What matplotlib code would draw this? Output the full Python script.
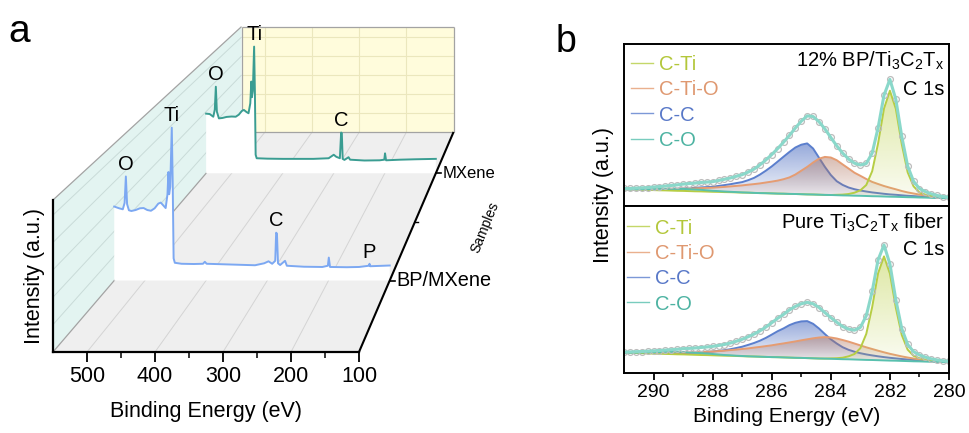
import numpy as np
import matplotlib
matplotlib.use('Agg')
import matplotlib.pyplot as plt
from matplotlib.patches import Polygon
from matplotlib.colors import to_rgb

plt.rcParams['font.family'] = ['Liberation Sans', 'DejaVu Sans']
plt.rcParams['mathtext.fontset'] = 'custom'
plt.rcParams['mathtext.rm'] = 'Liberation Sans'
plt.rcParams['mathtext.it'] = 'Liberation Sans:italic'

# ------------------------------------------------------------------ data (panel a)
sample_names = ['BP/MXene', 'MXene']
a_xticks = [500, 400, 300, 200, 100]
a_xminor = [450, 350, 250, 150]

bp_be = [550, 542, 536, 533, 531, 529, 526, 522, 515, 508, 502, 496, 490, 484, 478, 474,
         470, 466, 463, 461.5, 460.3, 458.5, 456, 454.5, 453, 451, 440, 420, 405, 402, 399,
         360, 320, 305, 298, 292, 287, 285.5, 284.2, 282.5, 279, 271, 268, 240, 210, 201,
         199.5, 197.5, 170, 150, 134, 133, 132, 110, 100]
bp_int = [30.0, 29.3, 28.9, 31.5, 42.2, 31.0, 28.5, 28.2, 28.6, 29.3, 29.4, 28.6, 28.3, 29.3,
          31.2, 31.6, 30.5, 29.4, 35.0, 44.0, 35.0, 38.0, 62.0, 40.0, 9.0, 7.2, 6.8, 6.7, 6.8,
          7.6, 6.8, 6.5, 6.2, 7.0, 7.8, 6.8, 8.0, 19.4, 19.0, 7.0, 6.3, 8.0, 6.0, 5.6, 5.5,
          6.0, 9.3, 5.5, 5.4, 5.5, 6.0, 6.8, 5.8, 6.0, 6.1]
mx_be = [550, 543, 536, 533, 531, 529, 525, 518, 510, 500, 492, 486, 480, 476, 471, 467,
         463.5, 461.5, 460.3, 458.5, 456, 454.5, 453, 451, 430, 400, 340, 310, 300, 295,
         288, 285.5, 284.2, 282.5, 279, 271, 268, 240, 210, 201, 199.5, 197.5, 170, 140, 100]
mx_int = [29.0, 28.8, 27.5, 31.0, 42.1, 30.0, 26.7, 26.9, 27.4, 27.6, 27.5, 28.5, 30.3, 30.8,
          29.8, 29.2, 34.0, 44.6, 37.0, 40.0, 61.6, 40.0, 9.0, 7.3, 7.1, 7.0, 7.0, 7.3, 9.0,
          8.0, 7.3, 19.8, 19.5, 7.0, 6.5, 7.8, 6.6, 6.2, 6.3, 6.6, 9.7, 6.3, 6.6, 6.8, 7.0]
bp_peaks = [('O', 531), ('Ti', 456), ('C', 285), ('P', 133)]
mx_peaks = [('O', 531), ('Ti', 456), ('C', 285)]

# ------------------------------------------------------------------ data (panel b)
b_be = [291.0, 290.8, 290.6, 290.4, 290.2, 290.0, 289.8, 289.6, 289.4, 289.2,
        289.0, 288.8, 288.6, 288.4, 288.2, 288.0, 287.8, 287.6, 287.4, 287.2,
        287.0, 286.8, 286.6, 286.4, 286.2, 286.0, 285.8, 285.6, 285.4, 285.2,
        285.0, 284.8, 284.6, 284.4, 284.2, 284.0, 283.8, 283.6, 283.4, 283.2,
        283.0, 282.8, 282.6, 282.4, 282.2, 282.0, 281.8, 281.6, 281.4, 281.2,
        281.0, 280.8, 280.6, 280.4, 280.2, 280.0]
b_xticks = [290, 288, 286, 284, 282, 280]
b_xminor = [289, 287, 285, 283, 281]
comp_names = ['C-Ti', 'C-Ti-O', 'C-C', 'C-O']

# top: 12% BP/Ti3C2Tx
top_bg = [16.7, 16.5, 16.4, 16.2, 16.0, 15.9, 15.7, 15.6, 15.4, 15.2,
          15.1, 14.9, 14.7, 14.6, 14.4, 14.2, 14.1, 13.9, 13.8, 13.6,
          13.4, 13.3, 13.1, 12.9, 12.8, 12.6, 12.4, 12.3, 12.1, 12.0,
          11.8, 11.6, 11.5, 11.3, 11.1, 11.0, 10.8, 10.6, 10.5, 10.3,
          10.2, 10.0, 9.8, 9.7, 9.5, 9.3, 9.2, 9.0, 8.8, 8.7,
          8.5, 8.4, 8.2, 8.0, 7.9, 7.7]
top_co = [0, 0, 0.3, 0.5, 0.8, 1.0, 1.3, 1.5, 1.8, 1.9,
          2.0, 1.9, 1.8, 1.6, 1.3, 1.0, 0.8, 0.6, 0.4, 0.3,
          0.2, 0.1, 0, 0, 0, 0, 0, 0, 0, 0,
          0, 0, 0, 0, 0, 0, 0, 0, 0, 0,
          0, 0, 0, 0, 0, 0, 0, 0, 0, 0,
          0, 0, 0, 0, 0, 0]
top_cc = [0.2, 0.3, 0.4, 0.5, 0.6, 0.8, 1.0, 1.2, 1.5, 2.0,
          2.5, 3.0, 3.5, 4.0, 4.5, 5.0, 6.0, 7.0, 8.0, 9.3,
          10.5, 12.5, 15.0, 18.5, 22.5, 27.0, 32.0, 37.0, 42.0, 46.5,
          49.5, 51.0, 46.0, 37.0, 28.0, 20.0, 14.0, 10.5, 8.0, 6.5,
          5.3, 4.5, 3.8, 3.2, 2.7, 2.3, 2.0, 1.7, 1.4, 1.2,
          1.0, 0.8, 0.6, 0.5, 0.4, 0.3]
top_ctio = [0.6, 0.7, 0.8, 0.9, 1.0, 1.2, 1.4, 1.6, 1.8, 2.0,
            2.3, 2.6, 2.9, 3.3, 3.7, 4.1, 4.6, 5.2, 5.8, 6.5,
            7.2, 8.0, 8.8, 9.7, 10.7, 11.8, 13.0, 14.5, 16.5, 19.5,
            23.5, 27.5, 32.0, 36.0, 38.0, 37.5, 35.0, 31.0, 27.0, 23.0,
            20.0, 17.0, 14.3, 12.3, 10.5, 9.0, 7.5, 6.0, 4.8, 3.8,
            2.9, 2.1, 1.5, 1.0, 0.6, 0.4]
top_cti = [0, 0, 0, 0, 0, 0, 0, 0, 0, 0,
           0, 0, 0, 0, 0, 0, 0, 0, 0, 0,
           0, 0, 0, 0, 0, 0, 0, 0, 0, 0,
           0, 0, 0, 0, 0, 0, 0.4, 0.8, 1.5, 3.0,
           5.5, 11.0, 25.0, 53.0, 88.0, 106.0, 88.0, 53.0, 25.0, 11.0,
           5.0, 3.0, 1.8, 1.0, 0.5, 0.3]

# bottom: pure Ti3C2Tx fiber
bot_bg = [20.3, 20.1, 20.0, 19.8, 19.6, 19.4, 19.3, 19.1, 18.9, 18.7,
          18.6, 18.4, 18.2, 18.0, 17.9, 17.7, 17.5, 17.3, 17.2, 17.0,
          16.8, 16.6, 16.5, 16.3, 16.1, 15.9, 15.8, 15.6, 15.4, 15.2,
          15.1, 14.9, 14.7, 14.5, 14.4, 14.2, 14.0, 13.8, 13.7, 13.5,
          13.3, 13.1, 13.0, 12.8, 12.6, 12.4, 12.3, 12.1, 11.9, 11.7,
          11.6, 11.4, 11.2, 11.0, 10.9, 10.7]
bot_co = [0, 0.2, 0.4, 0.7, 1.0, 1.3, 1.6, 1.9, 2.1, 2.3,
          2.4, 2.3, 2.1, 1.9, 1.6, 1.3, 1.0, 0.7, 0.5, 0.3,
          0.2, 0.1, 0, 0, 0, 0, 0, 0, 0, 0,
          0, 0, 0, 0, 0, 0, 0, 0, 0, 0,
          0, 0, 0, 0, 0, 0, 0, 0, 0, 0,
          0, 0, 0, 0, 0, 0]
bot_cc = [0.2, 0.2, 0.3, 0.3, 0.4, 0.5, 0.6, 0.7, 0.9, 1.1,
          1.4, 1.7, 2.1, 2.6, 3.1, 3.8, 4.6, 5.5, 6.6, 8.0,
          9.5, 11.5, 13.5, 16.0, 19.0, 22.5, 26.0, 29.0, 32.5, 35.0,
          36.5, 37.0, 34.5, 30.0, 24.5, 19.5, 15.5, 12.0, 9.5, 7.8,
          6.5, 5.5, 4.6, 3.9, 3.3, 2.8, 2.3, 1.9, 1.6, 1.3,
          1.1, 0.9, 0.7, 0.6, 0.5, 0.4]
bot_ctio = [0.4, 0.5, 0.6, 0.7, 0.8, 0.9, 1.0, 1.2, 1.4, 1.6,
            1.9, 2.2, 2.6, 3.0, 3.4, 3.8, 4.4, 5.0, 5.7, 6.4,
            7.2, 8.0, 8.9, 9.8, 10.8, 11.8, 12.9, 14.0, 15.2, 16.4,
            17.6, 18.8, 20.0, 21.0, 21.5, 21.3, 20.5, 19.2, 17.7, 16.0,
            14.3, 12.6, 11.0, 9.5, 8.1, 6.8, 5.6, 4.5, 3.6, 2.8,
            2.1, 1.5, 1.0, 0.7, 0.4, 0.3]
bot_cti = [0, 0, 0, 0, 0, 0, 0, 0, 0, 0,
           0, 0, 0, 0, 0, 0, 0, 0, 0, 0,
           0, 0, 0, 0, 0, 0, 0, 0, 0, 0,
           0, 0, 0, 0, 0, 0.4, 0.8, 1.5, 3.0, 5.5,
           11.5, 26.0, 53.0, 87.0, 104.0, 87.0, 53.0, 26.0, 11.5, 5.5,
           3.2, 2.0, 1.2, 0.7, 0.4, 0.2]

# ------------------------------------------------------------------ figure
W, H = 969, 433
fig = plt.figure(figsize=(W / 100, H / 100), dpi=100)

# ================= panel a : perspective waterfall =================
Z_TOP = 55.5
BE_L, BE_R = 550, 100
axa = fig.add_axes([53 / W, 81 / H, 306 / W, 152 / H])
axa.set_xlim(BE_L, BE_R)
axa.set_ylim(0, Z_TOP)
PX_PER_EV = 306 / 450.0
K = 0.443
BE_VP, Z_VP = -353.0, 261.7
depths = [0.25, 0.75]


def proj(be, z, d):
    s = 1.0 / (1.0 + K * d)
    return (BE_VP + s * (np.asarray(be, float) - BE_VP),
            Z_VP + s * (np.asarray(z, float) - Z_VP))


def poly3(pts, **kw):
    xy = [proj(b, z, d) for b, z, d in pts]
    axa.add_patch(Polygon(xy, closed=True, clip_on=False, **kw))


def line3(p0, p1, **kw):
    x0, y0 = proj(*p0)
    x1, y1 = proj(*p1)
    axa.plot([x0, x1], [y0, y1], clip_on=False, solid_capstyle='butt', **kw)


FLOOR_C, LWALL_C, BWALL_C = '#efefef', '#e3f4f1', '#fffcdc'
poly3([(BE_L, 0, 0), (BE_R, 0, 0), (BE_R, 0, 1), (BE_L, 0, 1)], fc=FLOOR_C, ec='none', zorder=0.2)
poly3([(BE_L, 0, 0), (BE_L, Z_TOP, 0), (BE_L, Z_TOP, 1), (BE_L, 0, 1)], fc=LWALL_C, ec='none', zorder=0.2)
poly3([(BE_L, 0, 1), (BE_R, 0, 1), (BE_R, Z_TOP, 1), (BE_L, Z_TOP, 1)], fc=BWALL_C, ec='none', zorder=0.2)

for b in a_xticks[:-1]:
    line3((b, 0, 0), (b, 0, 1), color='#d4d4d4', lw=0.7, zorder=0.3)
    line3((b, 0, 1), (b, Z_TOP, 1), color='#ebe7bd', lw=0.8, zorder=0.3)
for zz in [10, 20, 30, 40, 50]:
    line3((BE_L, zz, 0), (BE_L, zz, 1), color='#c9dbd8', lw=0.7, zorder=0.3)
    line3((BE_L, zz, 1), (BE_R, zz, 1), color='#ebe7bd', lw=0.8, zorder=0.3)

EDGE = '#a3a3a3'
for p0, p1 in [((BE_L, Z_TOP, 0), (BE_L, Z_TOP, 1)), ((BE_L, Z_TOP, 1), (BE_R, Z_TOP, 1)),
               ((BE_R, Z_TOP, 1), (BE_R, 0, 1)), ((BE_L, 0, 1), (BE_L, Z_TOP, 1)),
               ((BE_L, 0, 0), (BE_L, 0, 1)), ((BE_L, 0, 1), (BE_R, 0, 1))]:
    line3(p0, p1, color=EDGE, lw=0.9, zorder=0.4)

spectra = [(mx_be, mx_int, depths[1], '#3a9d92', mx_peaks, 1.0),
           (bp_be, bp_int, depths[0], '#7ca8f2', bp_peaks, 1.5)]
for be, it, d, col, peaks, zo in spectra:
    px, pz = proj(be, it, d)
    fx, fz = proj([be[-1], be[0]], [0, 0], d)
    verts = list(zip(px, pz)) + [(fx[0], fz[0]), (fx[1], fz[1])]
    axa.add_patch(Polygon(verts, closed=True, fc='white', ec='none', zorder=zo, clip_on=False))
    axa.plot(px, pz, color=col, lw=1.4, zorder=zo + 0.1, clip_on=False)
    bea = np.asarray(be, float)
    ita = np.asarray(it, float)
    for name, b0 in peaks:
        zmax = ita[np.abs(bea - b0) <= 3].max()
        xy = proj(b0, zmax, d)
        axa.annotate(name, xy=(float(xy[0]), float(xy[1])), xytext=(0, 4.5),
                     textcoords='offset points', ha='center', va='baseline',
                     fontsize=14.5, zorder=3, annotation_clip=False)

# samples axis (right floor edge)
line3((BE_R, 0, 0), (BE_R, 0, 1), color='black', lw=1.5, zorder=3)
for d, name, fs in [(depths[0], sample_names[0], 14.3), (depths[1], sample_names[1], 12)]:
    x0, y0 = proj(BE_R, 0, d)
    axa.plot([x0, x0 - 5 / PX_PER_EV], [y0, y0], color='black', lw=1.2, clip_on=False, zorder=3)
    axa.annotate(name, xy=(float(x0), float(y0)), xytext=(5, 0), textcoords='offset points',
                 ha='left', va='center', fontsize=fs, annotation_clip=False)
xm, ym = proj(BE_R, 0, 0.5)
axa.plot([xm, xm - 3 / PX_PER_EV], [ym, ym], color='black', lw=1.0, clip_on=False, zorder=3)
fig.text(485 / W, 1 - 227 / H, 'Samples', rotation=68, ha='center', va='center', fontsize=10)

for side in ['top', 'right']:
    axa.spines[side].set_visible(False)
axa.spines['left'].set_bounds(0, Z_TOP)
for side in ['left', 'bottom']:
    axa.spines[side].set_linewidth(1.6)
    axa.spines[side].set_zorder(3)
axa.patch.set_visible(False)
axa.set_xticks(a_xticks)
axa.set_xticks(a_xminor, minor=True)
axa.set_yticks([])
axa.tick_params(axis='x', which='major', direction='out', length=7, width=1.3,
                labelsize=15.5, pad=3)
axa.tick_params(axis='x', which='minor', direction='out', length=4, width=1.1)
axa.set_xlabel('Binding Energy (eV)', fontsize=15.5, labelpad=10)
axa.set_ylabel('Intensity (a.u.)', fontsize=15.5, labelpad=6)

fig.text(8 / W, 1 - 42 / H, 'a', fontsize=28, va='baseline')
fig.text(556 / W, 1 - 52 / H, 'b', fontsize=27, va='baseline')

# ================= panel b : C 1s fits =================
CTI_L, CTIO_L, CC_L, CO_L = '#b6cd44', '#e59c72', '#5b7fcd', '#58c0ae'
CTI_T, CTIO_T, CC_T, CO_T = '#b3c73a', '#df9870', '#5878c8', '#4db3a2'
ENV_C = '#8ad8ca'


def grad_fill(ax, x, lo, hi, color, a_top, a_bot, z):
    x = np.asarray(x, float)
    verts = np.concatenate([np.column_stack([x, hi]), np.column_stack([x[::-1], lo[::-1]])])
    patch = Polygon(verts, closed=True, fc='none', ec='none')
    ax.add_patch(patch)
    img = np.zeros((256, 2, 4))
    img[..., :3] = to_rgb(color)
    img[..., 3] = np.linspace(a_bot, a_top, 256)[:, None]
    im = ax.imshow(img, extent=(x.max(), x.min(), float(np.min(lo)), float(np.max(hi))),
                   origin='lower', aspect='auto', zorder=z, interpolation='bilinear')
    im.set_clip_path(patch)


def xps_panel(ax, bg, co, cc, ctio, cti, ylim, title, leg_y, leg_x):
    x = np.asarray(b_be, float)
    bg = np.asarray(bg, float)
    co = np.asarray(co, float); cc = np.asarray(cc, float)
    ctio = np.asarray(ctio, float); cti = np.asarray(cti, float)
    env = bg + co + cc + ctio + cti
    grad_fill(ax, x, bg, bg + cc, '#5474c4', 0.62, 0.05, 1.0)
    ax.plot(x, bg + cc, color=CC_L, lw=1.4, zorder=1.1)
    grad_fill(ax, x, bg, bg + ctio, '#b07560', 0.5, 0.06, 1.2)
    ax.plot(x, bg + ctio, color=CTIO_L, lw=1.4, zorder=1.3)
    grad_fill(ax, x, bg, bg + cti, '#c3d55a', 0.55, 0.08, 1.4)
    ax.plot(x, bg + cti, color=CTI_L, lw=1.4, zorder=1.5)
    ax.plot(x, bg + co, color=CO_L, lw=1.4, zorder=1.6)
    ax.plot(x, env, ls='none', marker='o', ms=4.2, mfc='none', mec='#bcbcbc', mew=0.9, zorder=1.7)
    ax.plot(x, env, color=ENV_C, lw=2.2, zorder=1.8)
    ax.set_xlim(291, 280)
    ax.set_ylim(*ylim)
    ax.set_yticks([])
    for s in ax.spines.values():
        s.set_linewidth(1.4)
    ax.text(0.985, title[2], title[0], transform=ax.transAxes, ha='right', va='baseline', fontsize=14.5)
    ax.text(0.985, title[3], title[1], transform=ax.transAxes, ha='right', va='baseline', fontsize=14.5)
    lcols = [CTI_L, CTIO_L, CC_L, CO_L]
    tcols = [CTI_T, CTIO_T, CC_T, CO_T]
    hgt = ax.get_position().height * H
    for i, (nm, lc, tc) in enumerate(zip(comp_names, lcols, tcols)):
        yy = leg_y - i * 25.3 / hgt
        ax.plot([leg_x, leg_x + 0.068], [yy, yy], transform=ax.transAxes, color=lc, lw=1.0,
                alpha=0.8, clip_on=False)
        ax.text(leg_x + 0.085, yy, nm, transform=ax.transAxes, color=tc, fontsize=14.5,
                va='center_baseline', ha='left')


axt = fig.add_axes([624 / W, (H - 206) / H, 325 / W, 162 / H])
axb = fig.add_axes([624 / W, (H - 373) / H, 325 / W, 167 / H])
xps_panel(axt, top_bg, top_co, top_cc, top_ctio, top_cti, (0, 162),
          ('12% BP/Ti$_3$C$_2$T$_\\mathrm{x}$', 'C 1s', 0.862, 0.683), 0.885, 0.022)
xps_panel(axb, bot_bg, bot_co, bot_cc, bot_ctio, bot_cti, (0, 167),
          ('Pure Ti$_3$C$_2$T$_\\mathrm{x}$ fiber', 'C 1s', 0.866, 0.707), 0.878, 0.010)
axt.set_xticks([])
axb.set_xticks(b_xticks)
axb.set_xticks(b_xminor, minor=True)
axb.tick_params(axis='x', which='major', direction='out', length=5, width=1.3, labelsize=14, pad=3)
axb.tick_params(axis='x', which='minor', direction='out', length=3, width=1.1)
axb.set_xlabel('Binding Energy (eV)', fontsize=15, labelpad=4)
fig.text(603 / W, 1 - 195 / H, 'Intensity (a.u.)', rotation=90, ha='center', va='center', fontsize=15.5)

fig.savefig('out.png', dpi=100)
